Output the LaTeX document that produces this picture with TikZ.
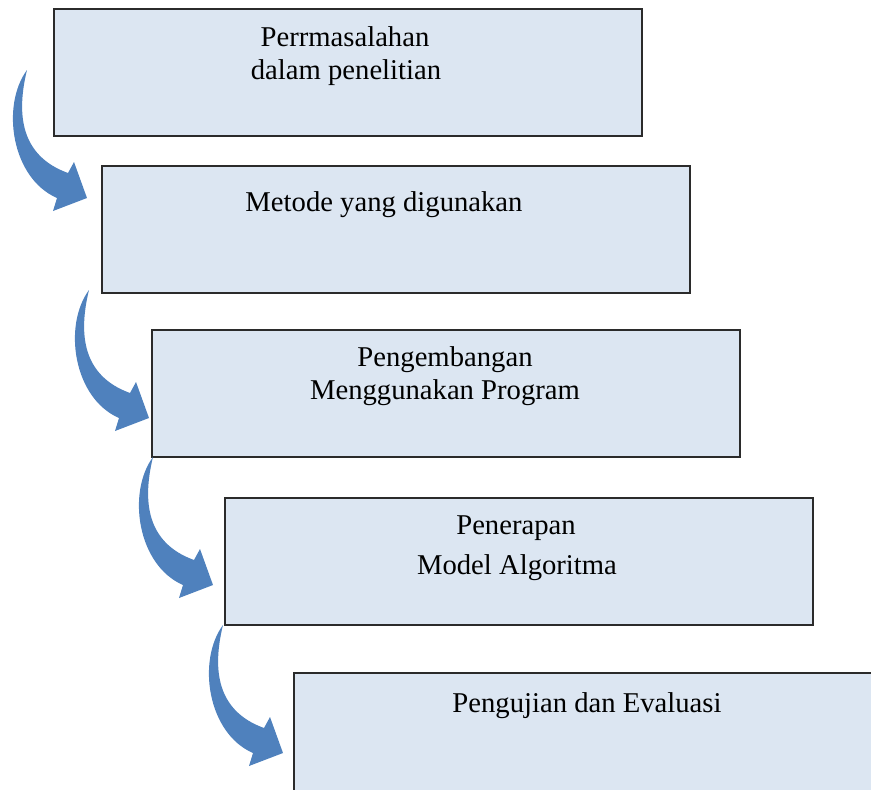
\documentclass[tikz,border=0pt]{standalone}
\usepackage{fontspec}
\setmainfont{Liberation Serif}
\definecolor{boxfill}{HTML}{DCE6F2}
\definecolor{arrowblue}{HTML}{4F81BD}
\definecolor{boxline}{HTML}{2B2B2B}
\begin{document}
\begin{tikzpicture}[x=0.75pt,y=-0.75pt,
  box/.style={draw=boxline, line width=1.2pt, fill=boxfill, rectangle, inner sep=0pt,
    anchor=north west, minimum width=441pt, minimum height=95.25pt},
  lbl/.style={font=\fontsize{21.5}{24.75}\selectfont, anchor=base, inner sep=0pt},
  curvearrow/.pic={
    \fill[arrowblue] (0,0) .. controls (-11,45) and (-6,86) .. (41,103)
      -- (47,92) -- (60,128) -- (26,141) -- (30,128)
      .. controls (-16,108) and (-26,35) .. (0,0) -- cycle;
  }]
\useasboundingbox (0,0) rectangle (871,789);
\clip (0,0) rectangle (871,789);
% boxes
\node[box] (b1) at (53,8) {};
\node[box] (b2) at (101,165) {};
\node[box] (b3) at (151,329) {};
\node[box] (b4) at (224,497) {};
\node[box, draw=none, minimum width=700pt] (b5) at (294,673) {};
\draw[boxline, line width=1.2pt] (b5.north east) -- (b5.north west) -- (b5.south west);
% texts
\node[lbl] (t1a) at (345,46) {Perrmasalahan};
\node[lbl] (t1b) at (346,79) {dalam penelitian};
\node[lbl] (t2) at (384,211) {Metode yang digunakan};
\node[lbl] (t3a) at (445,366) {Pengembangan};
\node[lbl] (t3b) at (445,399) {Menggunakan Program};
\node[lbl] (t4a) at (516,534) {Penerapan};
\node[lbl] (t4b) at (517,574) {Model Algoritma};
\node[lbl] (t5) at (587,712) {Pengujian dan Evaluasi};
% curved arrows
\pic at (27,70) {curvearrow};
\pic at (89,290) {curvearrow};
\pic at (153,457) {curvearrow};
\pic at (223,625) {curvearrow};
\end{tikzpicture}
\end{document}
